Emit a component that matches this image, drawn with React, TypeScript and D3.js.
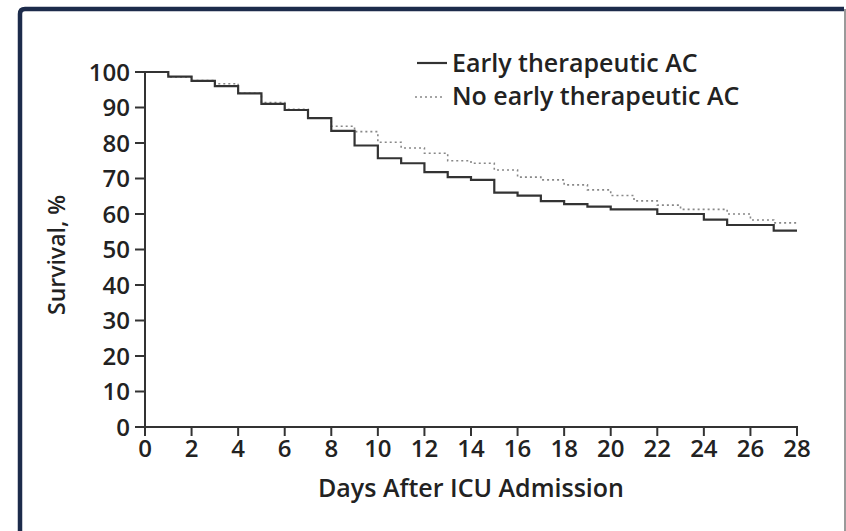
import React from 'react';
import * as d3 from 'd3';

// start day of each step (survival holds until the next day)
const days = [0, 1, 2, 3, 4, 5, 6, 7, 8, 9, 10, 11, 12, 13, 14, 15, 16, 17, 18, 19, 20, 21, 22, 23, 24, 25, 26, 27, 28];
const earlyAC = [100, 98.7, 97.5, 96.0, 94.0, 91.0, 89.3, 87.0, 83.4, 79.3, 75.7, 74.3, 71.8, 70.4, 69.6, 66.0, 65.2, 63.6, 62.8, 62.1, 61.3, 61.3, 60.0, 60.0, 58.4, 56.9, 56.9, 55.3, 55.3];
const noEarlyAC = [100, 98.6, 97.6, 96.7, 94.0, 91.4, 89.5, 87.0, 84.7, 83.2, 80.2, 78.6, 77.1, 75.0, 74.3, 72.4, 70.4, 69.6, 68.2, 66.8, 65.2, 63.7, 62.5, 61.3, 61.3, 60.0, 58.3, 57.5, 57.5];

const xTicks = [0, 2, 4, 6, 8, 10, 12, 14, 16, 18, 20, 22, 24, 26, 28];
const yTicks = [0, 10, 20, 30, 40, 50, 60, 70, 80, 90, 100];
const legendLabels = ['Early therapeutic AC', 'No early therapeutic AC'];

const W = 846;
const H = 531;
const font = '"Open Sans", "Liberation Sans", sans-serif';

export default function App() {
  const x = d3.scaleLinear().domain([0, 28]).range([145, 797]);
  const y = d3.scaleLinear().domain([0, 100]).range([427, 72]);

  const line = d3.line<number>()
    .x((d, i) => x(days[i]))
    .y(d => y(d))
    .curve(d3.curveStepAfter);

  return (
    <svg width={W} height={H} style={{ position: 'absolute', left: 0, top: 0, background: '#fff' }}>
      {/* frame */}
      <path d={`M20,${H + 5} L20,14 Q20,9 25,9 L844,9`} fill="none" stroke="#1c2b4b" strokeWidth={4.5} />
      <line x1={845} y1={9} x2={845} y2={H} stroke="#9a9a9a" strokeWidth={2} />

      {/* curves */}
      <path d={line(noEarlyAC) || ''} fill="none" stroke="#888" strokeWidth={1.6} strokeDasharray="2,3" />
      <path d={line(earlyAC) || ''} fill="none" stroke="#333" strokeWidth={2.2} />

      {/* y axis */}
      <line x1={x(0)} y1={y(100)} x2={x(0)} y2={y(0)} stroke="#333" strokeWidth={2} />
      {yTicks.map(t => (
        <g key={t}>
          <line x1={x(0) - 10} x2={x(0)} y1={y(t)} y2={y(t)} stroke="#333" strokeWidth={2} />
          <text x={130} y={y(t)} dy="0.36em" textAnchor="end" fontFamily={font} fontWeight={600}
            fontSize={24} fill="#222">{t}</text>
        </g>
      ))}
      <text transform={`translate(65,255) rotate(-90)`} textAnchor="middle"
        fontFamily={font} fontWeight={600} fontSize={23} fill="#222">Survival, %</text>

      {/* x axis */}
      <line x1={x(0) - 1} x2={x(28) + 1} y1={y(0)} y2={y(0)} stroke="#333" strokeWidth={2} />
      {xTicks.map(t => (
        <g key={t}>
          <line x1={x(t)} x2={x(t)} y1={y(0)} y2={y(0) + 9} stroke="#333" strokeWidth={2} />
          <text x={x(t)} y={457} textAnchor="middle" fontFamily={font} fontWeight={600}
            fontSize={24} fill="#222">{t}</text>
        </g>
      ))}
      <text x={(x(0) + x(28)) / 2} y={497} textAnchor="middle" fontFamily={font} fontWeight={600}
        fontSize={25} fill="#222">
        Days After ICU Admission
      </text>

      {/* legend */}
      <line x1={417} x2={447} y1={63} y2={63} stroke="#333" strokeWidth={2.2} />
      <text x={452} y={72} fontFamily={font} fontWeight={600} fontSize={25} fill="#222">{legendLabels[0]}</text>
      <line x1={415} x2={445} y1={97} y2={97} stroke="#888" strokeWidth={1.6} strokeDasharray="2,3" />
      <text x={452} y={105} fontFamily={font} fontWeight={600} fontSize={25} fill="#222">{legendLabels[1]}</text>
    </svg>
  );
}
